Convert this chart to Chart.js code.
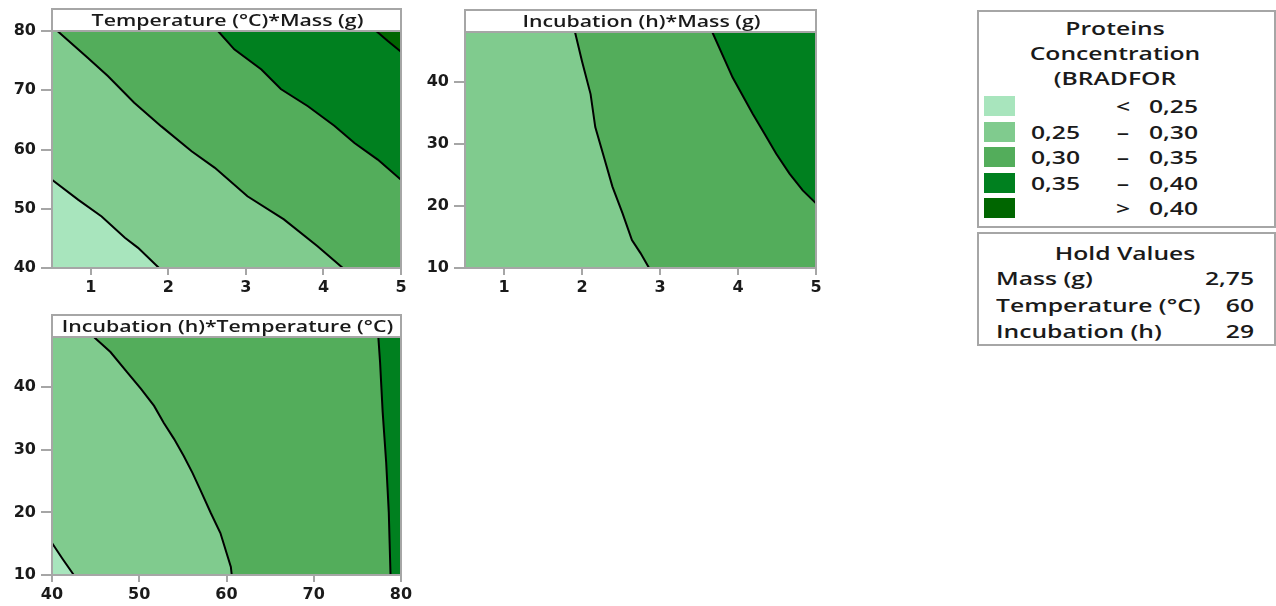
<!DOCTYPE html>
<html>
<head>
<meta charset="utf-8">
<script src="https://cdn.jsdelivr.net/npm/chart.js@4.4.1/dist/chart.umd.min.js"></script>
<style>
  body { margin: 0; background: #fff; width: 1276px; height: 606px; position: relative; overflow: hidden; font-family: "Open Sans", sans-serif; color: #1a1a1a; }
  canvas { position: absolute; }
  .box { position: absolute; border: 2px solid #a6a6a6; box-sizing: border-box; }
  .t { position: absolute; font-size: 18px; font-weight: 600; white-space: nowrap; line-height: 22px; transform: scaleX(1.37); }
  .sw { position: absolute; width: 31px; height: 20px; }
</style>
</head>
<body>
<canvas id="c1" width="420" height="300" style="left:0;top:0"></canvas>
<canvas id="c2" width="420" height="300" style="left:413px;top:0"></canvas>
<canvas id="c3" width="420" height="300" style="left:0;top:306px"></canvas>
<div id="legend"></div>
<script>
// tick labels
const massTicks = [1, 2, 3, 4, 5];
const tempTicks = [40, 50, 60, 70, 80];
const incTicks = [10, 20, 30, 40];

// contour levels
const levelColors = ['#a8e5bd', '#80cb8e', '#53ad5b', '#00801f', '#006600'];
const levelLow = ['', '0,25', '0,30', '0,35', ''];
const levelSign = ['<', '–', '–', '–', '>'];
const levelHigh = ['0,25', '0,30', '0,35', '0,40', '0,40'];

// hold values
const holdNames = ['Mass (g)', 'Temperature (°C)', 'Incubation (h)'];
const holdValues = ['2,75', '60', '29'];

// Temperature (°C) * Mass (g) contours, x = mass, y = temperature
const tmLine025 = [{x:0.5,y:54.9},{x:0.84,y:51.5},{x:1.14,y:48.7},{x:1.44,y:45.1},{x:1.61,y:43.4},{x:1.88,y:40}];
const tmLine030 = [{x:0.57,y:80},{x:0.96,y:75.5},{x:1.22,y:72.4},{x:1.56,y:67.9},{x:1.91,y:63.9},{x:2.3,y:59.7},{x:2.6,y:56.9},{x:3.02,y:52.1},{x:3.49,y:48.2},{x:3.92,y:43.7},{x:4.25,y:40}];
const tmLine035 = [{x:2.64,y:80},{x:2.85,y:76.9},{x:3.2,y:73.5},{x:3.45,y:70.2},{x:3.8,y:67.3},{x:4.14,y:64},{x:4.4,y:61.1},{x:4.7,y:58.3},{x:5,y:54.9}];
const tmLine040 = [{x:4.68,y:80},{x:4.83,y:78.3},{x:5,y:76.5}];

// Incubation (h) * Mass (g) contours, x = mass, y = incubation
const imLine030 = [{x:1.91,y:48},{x:2.0,y:43.3},{x:2.11,y:38},{x:2.17,y:32.7},{x:2.28,y:27.9},{x:2.39,y:23.1},{x:2.52,y:18.8},{x:2.64,y:14.5},{x:2.75,y:12.4},{x:2.86,y:10}];
const imLine035 = [{x:3.67,y:48},{x:3.93,y:40.7},{x:4.19,y:34.8},{x:4.34,y:31.6},{x:4.49,y:28.4},{x:4.66,y:25.2},{x:4.83,y:22.5},{x:5,y:20.4}];

// Incubation (h) * Temperature (°C) contours, x = temperature, y = incubation
const itLine025 = [{x:40,y:15.1},{x:41.2,y:12.6},{x:42.5,y:10}];
const itLine030 = [{x:44.8,y:48},{x:46.7,y:45.6},{x:48.6,y:42.4},{x:50.2,y:39.7},{x:51.7,y:37},{x:52.8,y:34.3},{x:54,y:31.7},{x:55.1,y:29},{x:56.1,y:26.3},{x:57,y:23.6},{x:58.2,y:19.9},{x:59.3,y:16.7},{x:60.5,y:11.3},{x:60.6,y:10}];
const itLine035 = [{x:77.4,y:48},{x:77.6,y:44},{x:77.75,y:40},{x:77.9,y:36},{x:78.1,y:32},{x:78.3,y:28},{x:78.45,y:24},{x:78.6,y:20},{x:78.7,y:15},{x:78.8,y:10}];

const FONT = '"Open Sans", sans-serif';
const TICK_FONT = '"DejaVu Sans", sans-serif';

function panelPlugin(title, baseColor) {
  return {
    id: 'panel',
    beforeDatasetsDraw(chart) {
      const a = chart.chartArea, ctx = chart.ctx;
      ctx.save();
      ctx.fillStyle = baseColor;
      ctx.fillRect(a.left, a.top, a.right - a.left, a.bottom - a.top);
      ctx.restore();
    },
    afterDraw(chart) {
      const a = chart.chartArea, ctx = chart.ctx;
      ctx.save();
      ctx.strokeStyle = '#a6a6a6';
      ctx.lineWidth = 2;
      ctx.strokeRect(a.left, a.top, a.right - a.left, a.bottom - a.top);
      ctx.fillStyle = '#fff';
      ctx.fillRect(a.left, a.top - 22, a.right - a.left, 22);
      ctx.strokeRect(a.left, a.top - 22, a.right - a.left, 22);
      // title text, stretched horizontally like the original
      ctx.fillStyle = '#1a1a1a';
      ctx.font = '600 16px ' + FONT;
      ctx.textAlign = 'center';
      ctx.textBaseline = 'middle';
      ctx.translate((a.left + a.right) / 2 + 1, a.top - 10);
      ctx.scale(1.33, 1);
      ctx.fillText(title, 0, 0);
      ctx.restore();
    }
  };
}

// one contour = a filled band above the line (next level colour) plus the black line itself
function contourSets(line, level, xMax, yMin) {
  const last = line[line.length - 1];
  const band = last.y === yMin && last.x < xMax ? line.concat([{x: xMax, y: yMin}]) : line;
  return [
    { data: band, showLine: true, fill: 'end', backgroundColor: levelColors[level], borderWidth: 0, pointRadius: 0, order: 10 - level },
    { data: line, showLine: true, fill: false, borderColor: '#000', borderWidth: 2, pointRadius: 0, order: 0 }
  ];
}

function axis(min, max, ticks, isX, size) {
  return {
    type: 'linear', min: min, max: max,
    border: { display: false },
    grid: { drawOnChartArea: false, drawTicks: true, tickLength: isX ? 7 : 11, color: '#a6a6a6', lineWidth: 2 },
    ticks: { color: '#1a1a1a', font: { family: TICK_FONT, size: 16, weight: 'bold' }, padding: isX ? 3 : 5 },
    afterBuildTicks: s => { s.ticks = ticks.map(v => ({ value: v })); },
    afterFit: s => { if (isX) s.height = size; else s.width = size; }
  };
}

function makePanel(id, title, baseColor, lines, xr, yr, xTicks, yTicks, pad, xH) {
  let datasets = [];
  lines.forEach(l => { datasets = datasets.concat(contourSets(l[0], l[1], xr[1], yr[0])); });
  return new Chart(document.getElementById(id), {
    type: 'scatter',
    data: { datasets: datasets },
    options: {
      responsive: false, animation: false, devicePixelRatio: 1,
      layout: { padding: pad },
      plugins: { legend: { display: false }, tooltip: { enabled: false } },
      scales: {
        x: axis(xr[0], xr[1], xTicks, true, xH),
        y: axis(yr[0], yr[1], yTicks, false, 52)
      }
    },
    plugins: [panelPlugin(title, baseColor)]
  });
}

makePanel('c1', 'Temperature (°C)*Mass (g)', levelColors[0],
  [[tmLine025, 1], [tmLine030, 2], [tmLine035, 3], [tmLine040, 4]],
  [0.5, 5], [40, 80], massTicks, tempTicks, { top: 31, right: 19, left: 0, bottom: 0 }, 32);

makePanel('c2', 'Incubation (h)*Mass (g)', levelColors[1],
  [[imLine030, 2], [imLine035, 3]],
  [0.5, 5], [10, 48], massTicks, incTicks, { top: 32, right: 17, left: 0, bottom: 0 }, 32);

makePanel('c3', 'Incubation (h)*Temperature (°C)', levelColors[0],
  [[itLine025, 1], [itLine030, 2], [itLine035, 3]],
  [40, 80], [10, 48], tempTicks, incTicks, { top: 31, right: 19, left: 0, bottom: 0 }, 31);

// legend boxes (HTML text); origin = which side stays put when stretched
const lg = document.getElementById('legend');
function add(cls, style, text, origin) {
  const d = document.createElement('div');
  d.className = cls;
  d.style.cssText = style + (origin ? ';transform-origin:' + origin + ' center' : '');
  if (text !== undefined) d.textContent = text;
  lg.appendChild(d);
  return d;
}
add('box', 'left:977px;top:10px;width:299px;height:218px');
['Proteins', 'Concentration', '(BRADFOR'].forEach((s, i) => {
  add('t', 'left:1015px;width:200px;text-align:center;top:' + (17 + i * 25) + 'px', s, 'center');
});
levelColors.forEach((c, i) => {
  const y = 96 + i * 25.5;
  add('sw', 'left:984px;top:' + y + 'px;background:' + c);
  add('t', 'left:1031px;top:' + (y - 1) + 'px', levelLow[i], 'left');
  add('t', 'left:1108px;width:30px;text-align:center;top:' + (y - 1) + 'px', levelSign[i], 'center');
  add('t', 'left:1149px;top:' + (y - 1) + 'px', levelHigh[i], 'left');
});
add('box', 'left:977px;top:232px;width:299px;height:114px');
add('t', 'left:1025px;width:200px;text-align:center;top:242px', 'Hold Values', 'center');
holdNames.forEach((n, i) => {
  add('t', 'left:996px;top:' + (267 + i * 26.5) + 'px', n, 'left');
  add('t', 'left:1157px;width:97px;text-align:right;top:' + (267 + i * 26.5) + 'px', holdValues[i], 'right');
});
</script>
</body>
</html>
